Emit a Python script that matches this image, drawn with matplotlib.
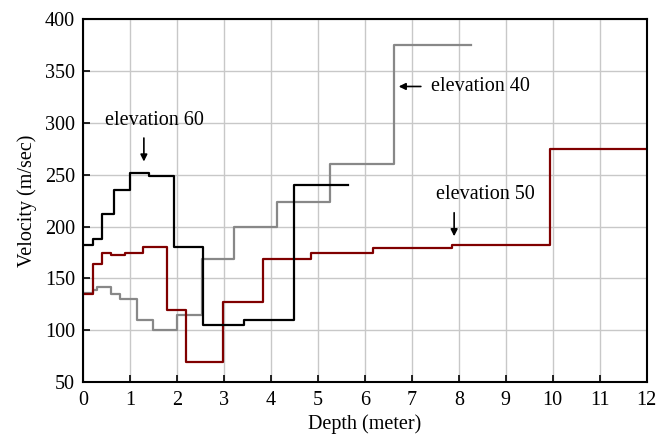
import numpy as np
import matplotlib.pyplot as plt
plt.rcParams['font.family'] = ['Liberation Serif', 'DejaVu Serif']

# step profiles: layer boundaries (depth, m) and velocity of each layer (m/sec)
e60_depth = [0, 0.2, 0.4, 0.65, 1.0, 1.39, 1.94, 2.56, 3.43, 4.49, 5.63]
e60_vel = [182, 188, 212, 235, 252, 249, 180, 105, 110, 240]

e50_depth = [0, 0.2, 0.39, 0.6, 0.88, 1.28, 1.79, 2.18, 2.97, 3.82, 4.85, 6.17, 7.86, 9.95, 12]
e50_vel = [135, 164, 175, 173, 175, 180, 120, 70, 127, 169, 175, 179, 182, 275]

e40_depth = [0, 0.2, 0.3, 0.58, 0.79, 1.15, 1.49, 1.99, 2.52, 3.22, 4.12, 5.26, 6.62, 8.25]
e40_vel = [136, 139, 142, 135, 130, 110, 100, 115, 169, 200, 224, 260, 375]

fig = plt.figure(figsize=(6.65, 4.37), dpi=100)
ax = fig.add_axes([0.1253, 0.1252, 0.847, 0.8313])

def step(ax, d, v, **kw):
    ax.plot(d, list(v) + [v[-1]], drawstyle='steps-post', **kw)

step(ax, e40_depth, e40_vel, color='#888888', lw=1.6)
step(ax, e50_depth, e50_vel, color='#800000', lw=1.6)
step(ax, e60_depth, e60_vel, color='black', lw=1.6)

ax.set_xlim(0, 12)
ax.set_ylim(50, 400)
ax.set_xticks(range(0, 13))
ax.set_yticks(range(50, 401, 50))
ax.grid(color='#c8c8c8', lw=1)
ax.set_axisbelow(True)
ax.tick_params(direction='in', labelsize=14.5, length=5, width=1.2, pad=6)
for s in ax.spines.values():
    s.set_linewidth(1.5)
ax.set_xlabel('Depth (meter)', fontsize=14.5, labelpad=3)
ax.set_ylabel('Velocity (m/sec)', fontsize=14.5, labelpad=6)

arw = dict(arrowstyle='-|>', color='black', lw=1.2, mutation_scale=10)
ax.annotate('', xy=(1.29, 260), xytext=(1.29, 288), arrowprops=arw)
ax.text(1.52, 302, 'elevation 60', fontsize=14.5, ha='center', va='center')
ax.annotate('', xy=(6.66, 335), xytext=(7.25, 335), arrowprops=arw)
ax.text(7.4, 335, 'elevation 40', fontsize=14.5, ha='left', va='center')
ax.annotate('', xy=(7.9, 188), xytext=(7.9, 216), arrowprops=arw)
ax.text(8.57, 231, 'elevation 50', fontsize=14.5, ha='center', va='center')

fig.savefig('out.png', dpi=100)
